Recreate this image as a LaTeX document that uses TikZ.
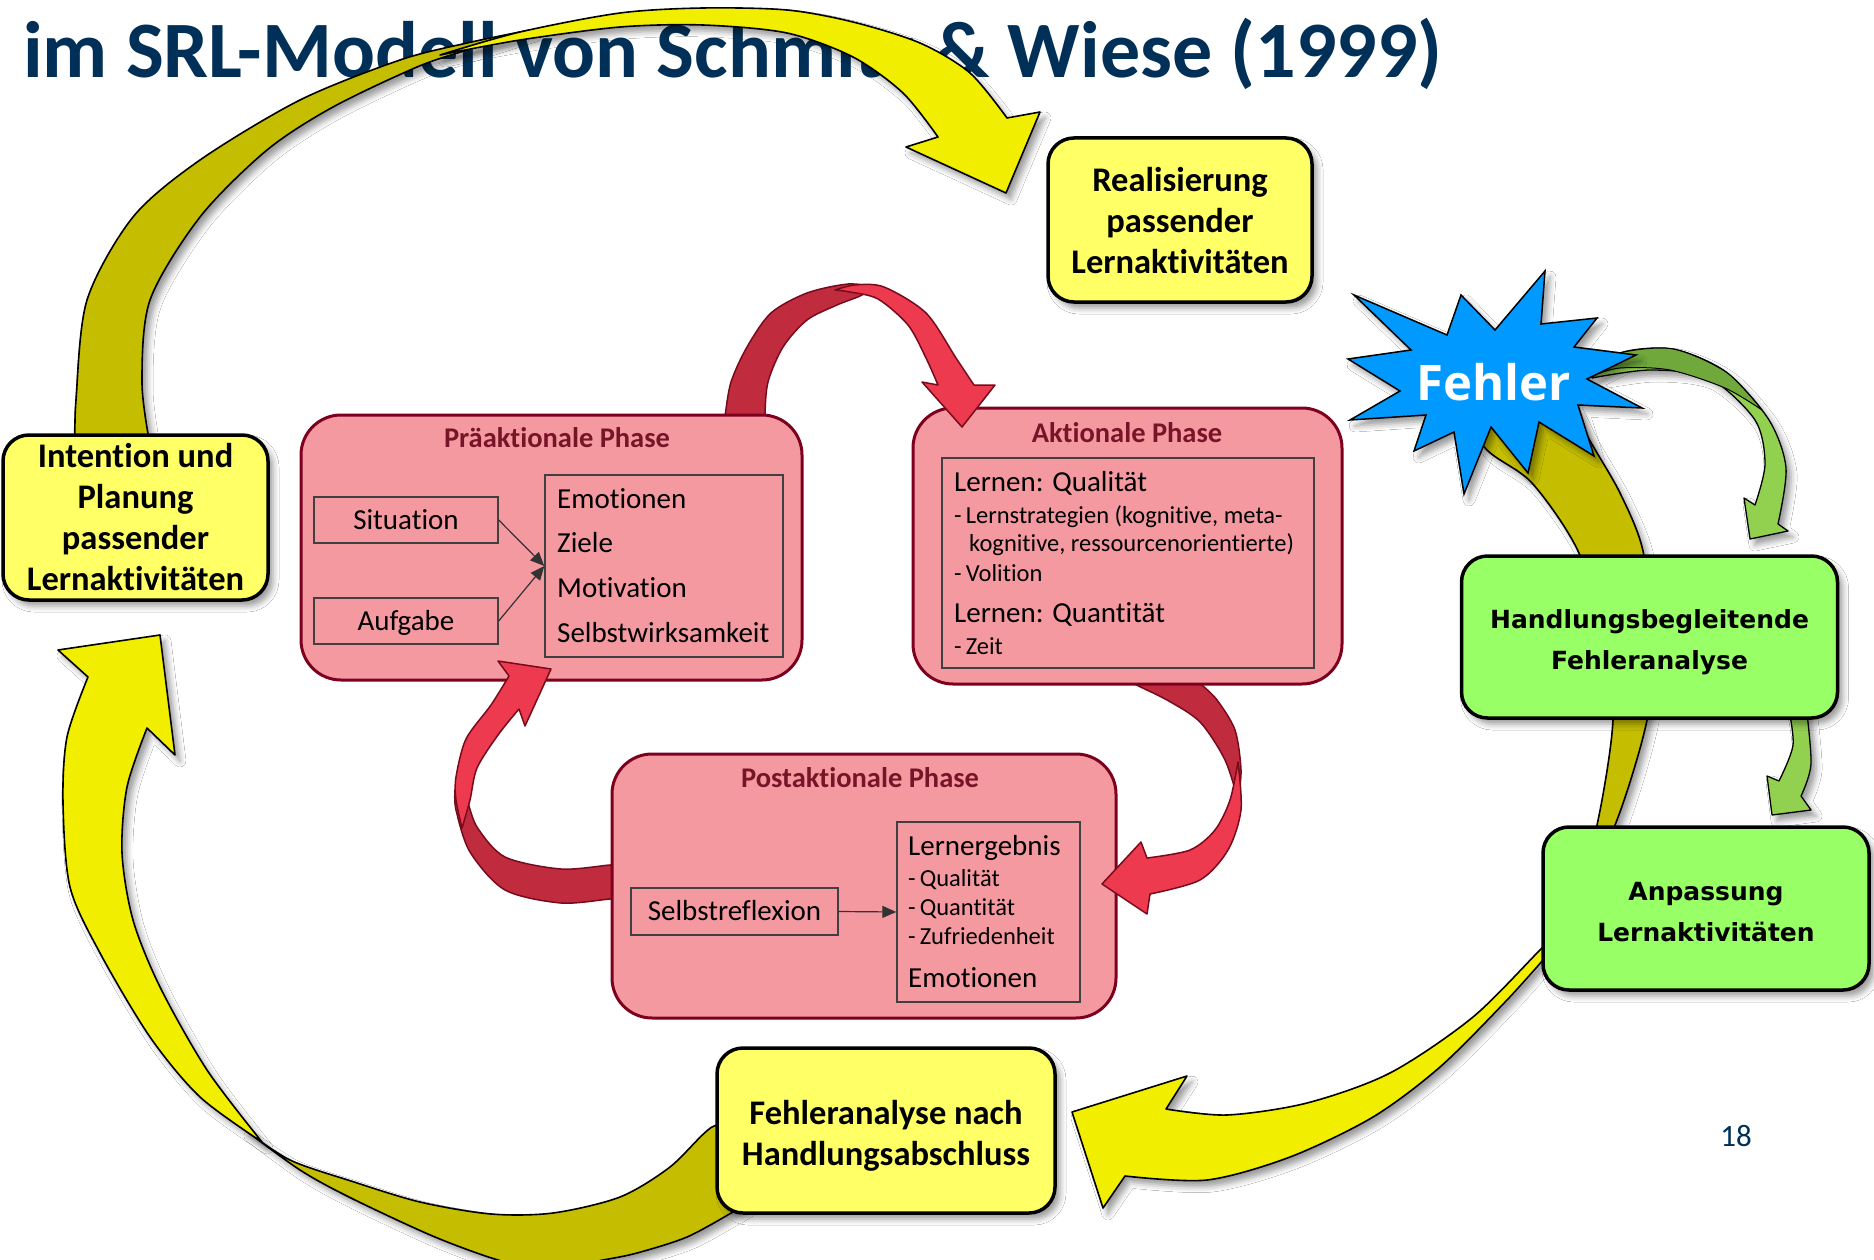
\documentclass[tikz,border=0pt]{standalone}
\usepackage{fontspec}
\setmainfont{Carlito}[Ligatures=NoCommon]
\newfontfamily\dejavu{DejaVu Sans}
\newfontfamily\opensans{Open Sans}
\usetikzlibrary{arrows.meta,shadows.blur}
\definecolor{navy}{RGB}{0,48,87}
\definecolor{ybox}{RGB}{255,255,102}
\definecolor{gbox}{RGB}{153,255,102}
\definecolor{pinkf}{RGB}{244,153,160}
\definecolor{pinkd}{RGB}{125,0,30}
\definecolor{phtitle}{RGB}{120,20,40}
\definecolor{yel}{RGB}{242,238,0}
\definecolor{olive}{RGB}{196,189,0}
\definecolor{redb}{RGB}{238,58,78}
\definecolor{redd}{RGB}{192,44,62}
\definecolor{redline}{RGB}{120,10,30}
\definecolor{starblue}{RGB}{0,153,255}
\definecolor{grl}{RGB}{146,208,80}
\definecolor{grd}{RGB}{112,168,60}
\begin{document}
\begin{tikzpicture}[x=1pt,y=-1pt,
 shd/.style={blur shadow={shadow xshift=5pt,shadow yshift=-6pt,shadow blur radius=6pt,shadow opacity=40}},
 yarrow/.style={fill=yel,draw=black,line width=1.6pt,line join=round},
 oarrow/.style={fill=olive,draw=black,line width=1.6pt,line join=round},
 rbright/.style={fill=redb,draw=redline,line width=1.5pt,line join=round},
 rdark/.style={fill=redd,draw=redline,line width=1.5pt,line join=round},
 glight/.style={fill=grl,draw=black,line width=1.3pt,line join=round},
 gdark/.style={fill=grd,draw=black,line width=1.0pt,line join=round},
 ybx/.style={draw=black,line width=3.5pt,fill=ybox,rounded corners=26pt,shd,inner sep=0pt},
 gbx/.style={draw=black,line width=3.5pt,fill=gbox,rounded corners=26pt,shd,inner sep=0pt},
 ytext/.style={align=center,inner sep=0pt,font=\bfseries\fontsize{34.5}{41}\selectfont},
 gtext/.style={align=center,inner sep=0pt,font=\dejavu\bfseries\fontsize{25}{41}\selectfont},
 phase/.style={draw=pinkd,line width=3pt,fill=pinkf,rounded corners=40pt},
 ibox/.style={draw=black!75,line width=1.4pt,inner sep=0pt,font=\fontsize{29}{34}\selectfont,text height=18.5pt,text depth=0pt},
 ptitle/.style={text=phtitle,font=\bfseries\fontsize{28.5}{30}\selectfont,inner sep=0pt},
 big/.style={font=\fontsize{29}{34}\selectfont,inner sep=0pt,anchor=base west},
 small/.style={font=\fontsize{24.5}{28}\selectfont,inner sep=0pt,anchor=base west},
 tip/.style={-{Triangle[length=14pt,width=12pt]},line width=1.2pt,black!80}
]
\useasboundingbox (0,0) rectangle (1874,1260);
\fill[white] (0,0) rectangle (1874,1260);

% title
\node[anchor=base west,text=navy,font=\bfseries\fontsize{80}{90}\selectfont,inner sep=0pt] (title) at (23,78) {im SRL-Modell von Schmitz \& Wiese (1999)};

% top yellow arrow (Intention -> Realisierung)
\path[oarrow,shd] plot[smooth] coordinates {(75,445) (76,400) (87,300) (133,217) (200,160) (300,100) (400,60) (467,43) (530,30)}
  -- plot[smooth] coordinates {(530,30) (467,50) (417,67) (333,107) (267,150) (200,217) (150,300) (142,383) (150,445)} -- cycle;
\path[yarrow,shd] plot[smooth] coordinates {(440,55) (520,32) (620,13) (703,8) (787,10) (853,22) (920,43) (970,73) (1007,118)}
  -- (1040,112) -- (1006,193) -- (906,147)
  -- plot[smooth] coordinates {(938,137) (903,93) (853,57) (787,33) (703,25) (620,27) (520,40) (440,55)} -- cycle;

% lower left arrow (Fehleranalyse nach -> Intention)
\path[oarrow,shd] plot[smooth] coordinates {(745,1122) (712,1127) (670,1167) (620,1197) (553,1213) (491,1214) (420,1202) (351,1181) (290,1160) (245,1130)}
  -- plot[smooth] coordinates {(245,1130) (300,1170) (351,1198) (435,1237) (505,1262) (555,1268) (603,1260) (637,1253) (687,1237) (733,1212) (745,1205)} -- cycle;
\path[yarrow,shd] plot[smooth] coordinates {(262,1142) (200,1097) (150,1037) (100,953) (70,887) (63,803) (67,737) (88,677)}
  -- (58,650) -- (160,635) -- (175,755)
  -- plot[smooth] coordinates {(147,728) (127,787) (122,853) (133,920) (160,987) (207,1070) (262,1142)} -- cycle;

% right arrow (Fehler -> ... -> Fehleranalyse nach)
\path[oarrow,shd] plot[smooth] coordinates {(1455,400) (1486,449) (1532,483) (1578,551) (1605,640) (1613,720) (1597,825) (1572,905)}
  -- plot[smooth] coordinates {(1572,905) (1615,825) (1647,720) (1652,640) (1643,551) (1620,493) (1589,439) (1570,400)} -- cycle;
\path[yarrow,shd] plot[smooth] coordinates {(1550,944) (1542,948) (1473,1017) (1390,1073) (1307,1103) (1227,1115) (1166,1109)}
  -- (1187,1076) -- (1072,1112) -- (1103,1208)
  -- plot[smooth] coordinates {(1125,1176) (1207,1180) (1290,1157) (1373,1117) (1440,1067) (1507,1000) (1550,952)} -- cycle;

% green arrows
\path[glight,shd] plot[smooth] coordinates {(1592,378) (1620,353) (1673,349) (1726,372) (1769,420) (1786,468) (1778,524)}
  -- (1788,531) -- (1750,539) -- (1744,498)
  -- plot[smooth] coordinates {(1755,505) (1765,464) (1755,420) (1709,378) (1650,370) (1592,378)} -- cycle;
\path[gdark] plot[smooth] coordinates {(1592,372) (1620,353) (1673,349) (1726,372) (1762,410)}
  -- plot[smooth] coordinates {(1762,410) (1725,388) (1670,370) (1620,368) (1592,376)} -- cycle;
\path[glight,shd] plot[smooth] coordinates {(1788,705) (1793,745) (1779,781)}
  -- (1767,776) -- (1772,815) -- (1811,810)
  -- plot[smooth] coordinates {(1801,796) (1811,764) (1806,705)} -- cycle;

% red arrows, back parts
\path[rdark] plot[smooth] coordinates {(723,430) (725,416) (731,382) (747,347) (771,313) (807,293) (848,284) (875,287)}
  -- plot[smooth] coordinates {(875,287) (860,296) (837,305) (807,320) (783,347) (768,382) (765,416) (767,430)} -- cycle;
\path[rdark] plot[smooth] coordinates {(1195,675) (1200,683) (1217,700) (1235,730) (1241,770) (1238,800)}
  -- plot[smooth] coordinates {(1238,800) (1225,760) (1200,722) (1167,700) (1133,683) (1128,675)} -- cycle;
\path[rdark] plot[smooth] coordinates {(625,899) (610,899) (561,903) (505,890) (470,852) (456,810) (455,790)}
  -- plot[smooth] coordinates {(455,790) (466,798) (477,827) (505,857) (561,869) (610,865) (625,865)} -- cycle;

% phase boxes
\node[phase,minimum width=501pt,minimum height=265pt] (pre) at (551.5,547.5) {};
\node[phase,minimum width=429pt,minimum height=276pt] (akt) at (1127.5,546) {};
\node[phase,minimum width=504pt,minimum height=264pt] (post) at (864,886) {};

\node[ptitle] (pret) at (557,438) {Präaktionale Phase};
\node[ptitle] (aktt) at (1127,433) {Aktionale Phase};
\node[ptitle] (postt) at (860,778) {Postaktionale Phase};

% Praeaktionale content
\node[ibox,minimum width=184pt,minimum height=46pt] (sit) at (406,520) {Situation};
\node[ibox,minimum width=184pt,minimum height=46pt] (aufg) at (406,621) {Aufgabe};
\node[ibox,minimum width=238pt,minimum height=182pt] (prebox) at (664,566) {};
\node[big] (pe1) at (557,508) {Emotionen};
\node[big] (pe2) at (557,552) {Ziele};
\node[big] (pe3) at (557,597) {Motivation};
\node[big] (pe4) at (557,642) {Selbstwirksamkeit};
\draw[tip] (sit.east) -- (prebox.west);
\draw[tip] (aufg.east) -- (prebox.west);

% Aktionale content
\node[ibox,minimum width=372pt,minimum height=210pt] (aktbox) at (1128,563) {};
\node[big] (a1) at (954,491) {Lernen: Qualität};
\node[small] (a2) at (954,523) {-\,Lernstrategien (kognitive, meta-};
\node[small] (a3) at (969,551) {kognitive, ressourcenorientierte)};
\node[small] (a4) at (954,581) {-\,Volition};
\node[big] (a5) at (954,622) {Lernen: Quantität};
\node[small] (a6) at (954,654) {-\,Zeit};

% Postaktionale content
\node[ibox,minimum width=207pt,minimum height=47pt] (selbst) at (734.5,911.5) {Selbstreflexion};
\node[ibox,minimum width=183pt,minimum height=180pt] (postbox) at (988.5,912) {};
\node[big] (p1) at (908,855) {Lernergebnis};
\node[small] (p2) at (908,886) {-\,Qualität};
\node[small] (p3) at (908,915) {-\,Quantität};
\node[small] (p4) at (908,944) {-\,Zufriedenheit};
\node[big] (p5) at (908,987) {Emotionen};
\draw[tip] (selbst.east) -- (postbox.west);

% red arrows, front parts
\path[rbright] plot[smooth] coordinates {(835,290) (855,285) (884,287) (926,313) (956,358) (974,385)}
  -- (995,385) -- (962,427) -- (922,382)
  -- plot[smooth] coordinates {(938,385) (926,358) (908,325) (878,299) (850,292) (835,290)} -- cycle;
\path[rbright] plot[smooth] coordinates {(1238,762) (1241,810) (1228,850) (1200,880) (1150,894)}
  -- (1147,914) -- (1102,884) -- (1141,842)
  -- plot[smooth] coordinates {(1147,858) (1190,850) (1215,830) (1230,800) (1238,762)} -- cycle;
\path[rbright] plot[smooth] coordinates {(462,828) (456,800) (456,777) (466,739) (491,705) (509,676)}
  -- (498,661) -- (551,669) -- (525,726)
  -- plot[smooth] coordinates {(519,709) (498,735) (477,768) (470,800) (462,828)} -- cycle;

% yellow and green boxes
\node[ybx,minimum width=264pt,minimum height=164pt] (real) at (1180,220) {};
\node[ytext] (realt) at ([yshift=-1pt]real.center) {Realisierung\\passender\\Lernaktivitäten};
\node[ybx,minimum width=265pt,minimum height=165pt] (intent) at (135.5,517.5) {};
\node[ytext] (intentt) at (intent.center) {Intention und\\Planung\\passender\\Lernaktivitäten};
\node[ybx,minimum width=338pt,minimum height=165pt] (nach) at (886,1130.5) {};
\node[ytext] (nacht) at ([yshift=-5pt]nach.center) {Fehleranalyse nach\\Handlungsabschluss};
\node[gbx,minimum width=376pt,minimum height=162pt] (hbf) at (1649.5,637) {};
\node[gtext] (hbft) at ([yshift=-5pt]hbf.center) {Handlungsbegleitende\\Fehleranalyse};
\node[gbx,minimum width=326pt,minimum height=163pt] (anp) at (1706,908.5) {};
\node[gtext] (anpt) at ([yshift=-4pt]anp.center) {Anpassung\\Lernaktivitäten};

% star
\path[fill=starblue,draw=black,line width=1.5pt,line join=miter,shd] (1354,295) -- (1447,335) -- (1461,295) -- (1495,330) -- (1545,271) -- (1541,324) -- (1597,318) -- (1574,347) -- (1636,355) -- (1587,379) -- (1642,408) -- (1578,405) -- (1594,456) -- (1539,422) -- (1528,473) -- (1491,427) -- (1464,494) -- (1454,432) -- (1414,451) -- (1426,415) -- (1350,420) -- (1400,391) -- (1348,359) -- (1411,350) -- cycle;
\node[text=white,font=\opensans\bfseries\fontsize{49}{52}\selectfont,inner sep=0pt] (fehler) at (1494,382) {Fehler};

\node[text=navy,font=\fontsize{31}{33}\selectfont,inner sep=0pt] (pnum) at (1736,1136) {18};
\end{tikzpicture}
\end{document}
